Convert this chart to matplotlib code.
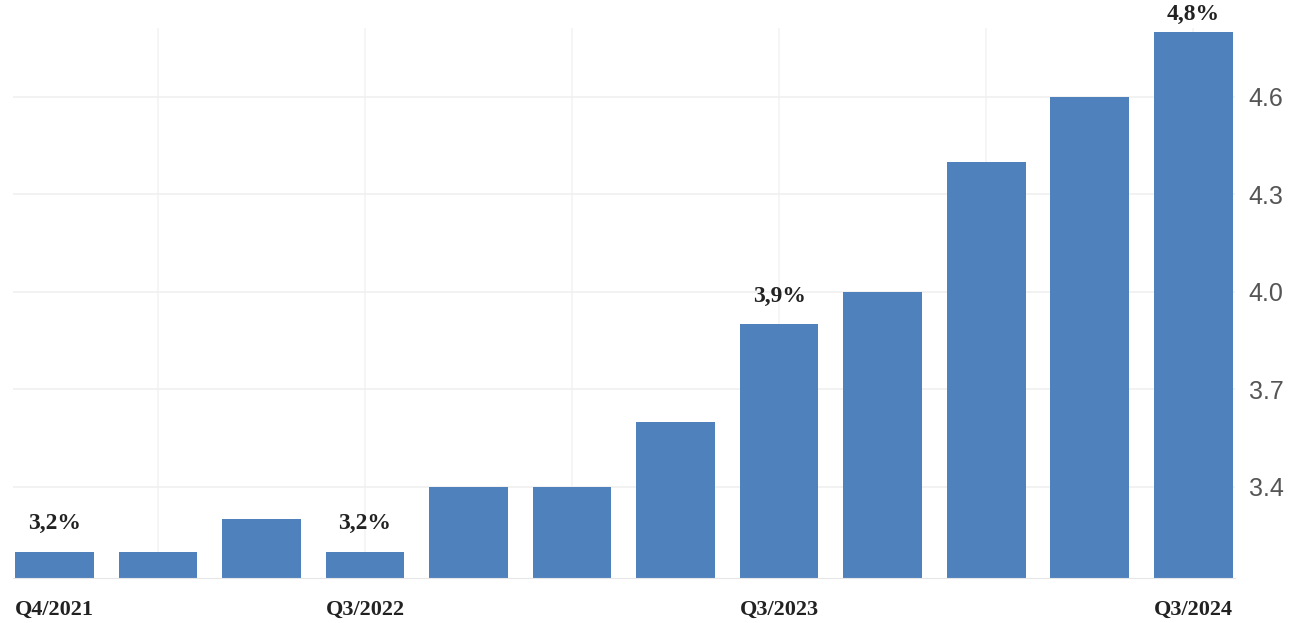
import numpy as np
import matplotlib.pyplot as plt

quarters = ['Q4/2021', 'Q1/2022', 'Q2/2022', 'Q3/2022', 'Q4/2022', 'Q1/2023',
            'Q2/2023', 'Q3/2023', 'Q4/2023', 'Q1/2024', 'Q2/2024', 'Q3/2024']
values = [3.2, 3.2, 3.3, 3.2, 3.4, 3.4, 3.6, 3.9, 4.0, 4.4, 4.6, 4.8]
shown_labels = {0: '3,2%', 3: '3,2%', 7: '3,9%', 11: '4,8%'}
xtick_idx = [0, 3, 7, 11]
yticks = [3.4, 3.7, 4.0, 4.3, 4.6]

fig = plt.figure(figsize=(13.01, 6.23), dpi=100)
ax = fig.add_axes([0.01, 0.0722, 0.939, 0.883])

x = np.arange(len(values))
ax.bar(x, values, width=0.76, color='#4f81bd', zorder=2)

for i, txt in shown_labels.items():
    # top label is squeezed against the frame edge
    off = 0.02 if i == len(values) - 1 else 0.055
    ax.text(x[i], values[i] + off, txt, ha='center', va='bottom',
            fontsize=17, fontweight='bold', family='Liberation Serif', color='#222222')

ax.set_xlim(-0.4, 11.4)
ax.set_ylim(3.12, 4.812)

ax.set_xticks(x[xtick_idx])
ax.set_xticklabels([quarters[i] for i in xtick_idx], fontsize=16, fontweight='bold',
                   family='Liberation Serif', color='#222222')
ax.tick_params(axis='x', length=0, pad=16)

ax.yaxis.tick_right()
ax.set_yticks(yticks)
ax.set_yticklabels([f'{v:.1f}' for v in yticks], fontsize=18, family='Liberation Sans',
                   color='#555555')
ax.tick_params(axis='y', length=0, pad=10)

ax.grid(axis='y', color='#f0f0f0', linewidth=1.2, zorder=0)
for xv in x[1::2]:
    ax.axvline(xv, color='#f3f3f3', linewidth=1.2, zorder=0)

for side in ['top', 'left', 'right']:
    ax.spines[side].set_visible(False)
ax.spines['bottom'].set_color('#e6e6e6')

fig.savefig('out.png', dpi=100)
